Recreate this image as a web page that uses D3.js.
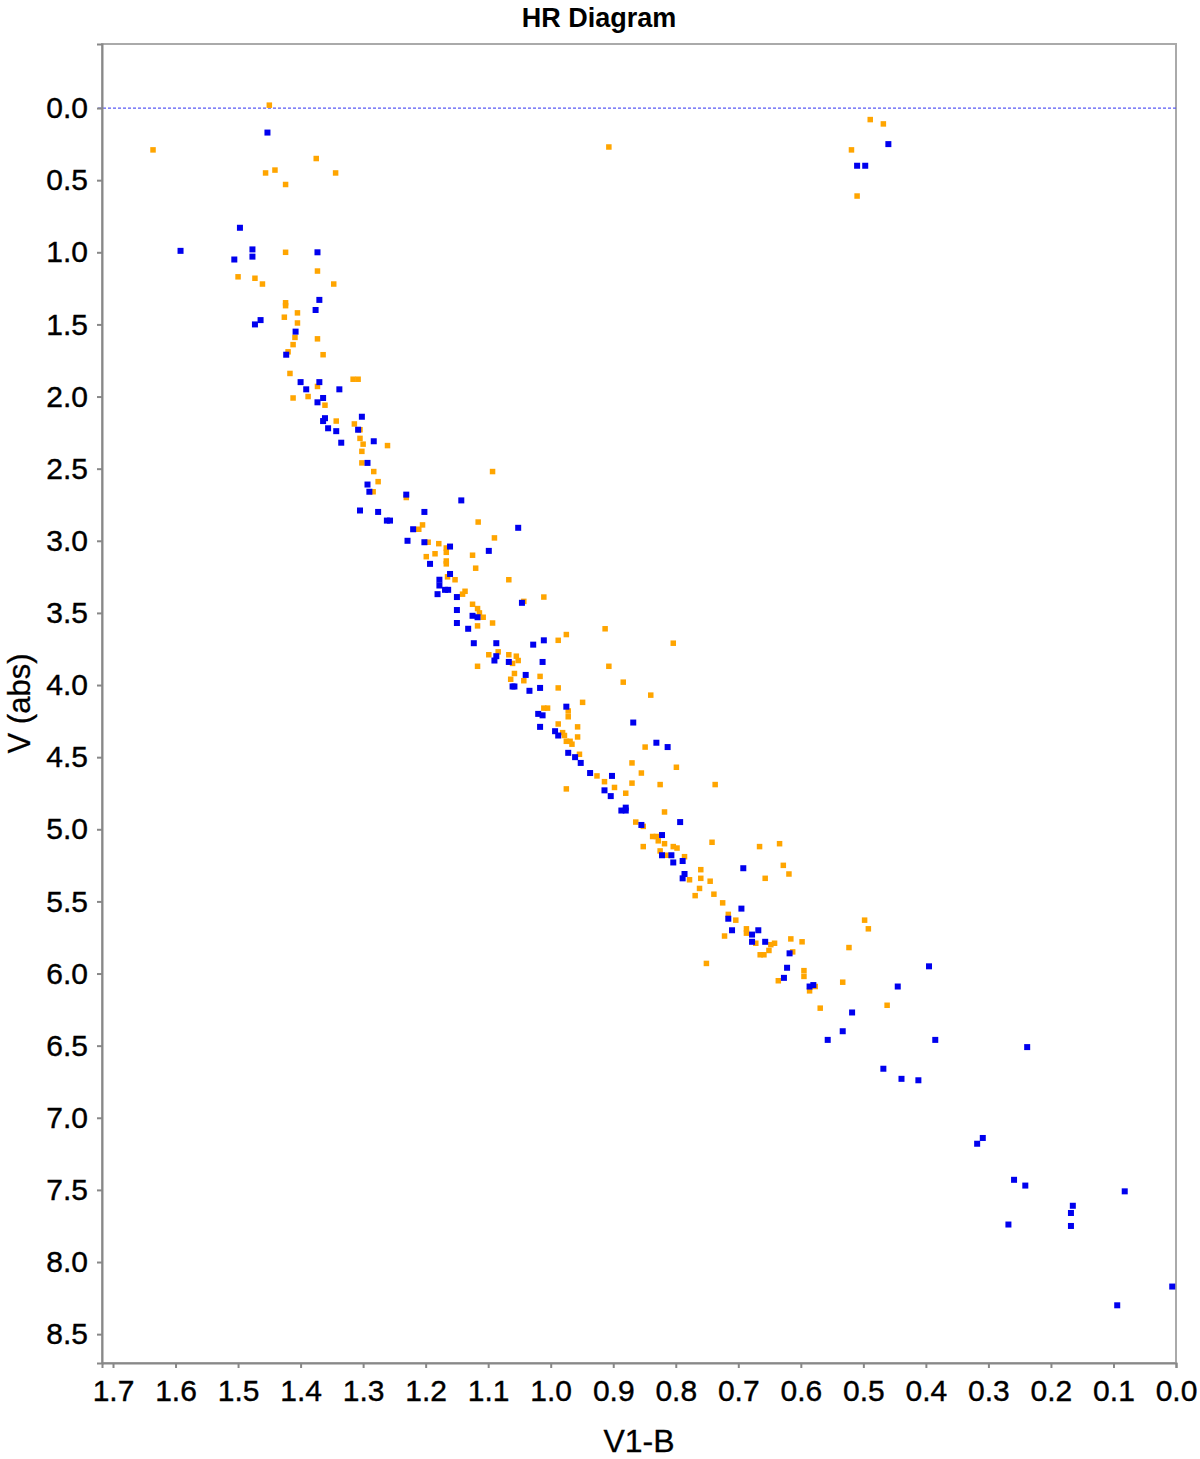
<!DOCTYPE html>
<html>
<head>
<meta charset="utf-8">
<script src="https://cdn.jsdelivr.net/npm/d3@7"></script>
<style>
  body { margin: 0; background: #fff; }
  svg text { font-family: "Liberation Sans", Arial, sans-serif; }
</style>
</head>
<body>
<script>
// orange series: [V1-B, V(abs)]
var orangeStars = [
  [1.450,-0.02],[1.636,0.29],[1.375,0.35],[1.456,0.45],[1.441,0.43],[1.344,0.45],[1.424,0.53],
  [1.424,1.00],[1.373,1.13],[1.500,1.17],[1.473,1.18],[1.461,1.22],[1.347,1.22],[1.424,1.35],
  [1.424,1.37],[1.405,1.42],[1.426,1.45],[1.405,1.49],[1.409,1.59],[1.373,1.60],[1.412,1.64],
  [1.420,1.69],[1.364,1.71],[1.417,1.84],[1.373,1.93],[1.316,1.88],[1.308,1.88],[1.412,2.01],
  [1.388,2.00],[1.361,2.06],[1.343,2.17],[1.314,2.19],[1.305,2.23],[1.305,2.29],[1.300,2.33],
  [1.261,2.34],[1.302,2.38],[1.302,2.46],[1.283,2.52],[1.093,2.52],[1.276,2.59],[1.284,2.66],
  [1.231,2.70],[1.116,2.87],[1.205,2.89],[1.211,2.92],[1.090,2.98],[1.196,3.01],[1.179,3.02],
  [1.167,3.05],[1.185,3.09],[1.167,3.08],[1.125,3.10],[1.199,3.11],[1.167,3.14],[1.167,3.16],
  [1.120,3.19],[1.165,3.25],[1.153,3.27],[1.137,3.35],[1.141,3.37],[1.125,3.44],[1.117,3.47],
  [1.114,3.50],[1.108,3.53],[1.117,3.59],[1.093,3.57],[1.067,3.27],[1.011,3.39],[1.043,3.42],
  [0.913,3.61],[0.975,3.65],[0.988,3.69],[0.804,3.71],[1.099,3.79],[1.084,3.77],[1.067,3.79],
  [1.055,3.80],[1.052,3.83],[1.061,3.85],[1.117,3.87],[0.907,3.87],[1.058,3.92],[1.017,3.94],
  [1.064,3.96],[1.043,3.97],[0.884,3.98],[0.988,4.02],[0.840,4.07],[0.949,4.12],[1.011,4.16],
  [1.005,4.16],[0.972,4.18],[0.972,4.22],[0.988,4.27],[0.957,4.29],[0.981,4.33],[0.978,4.35],
  [0.975,4.39],[0.969,4.39],[0.966,4.41],[0.957,4.36],[0.849,4.43],[0.954,4.48],[0.870,4.54],
  [0.799,4.57],[0.926,4.63],[0.855,4.61],[0.914,4.67],[0.898,4.71],[0.870,4.68],[0.825,4.69],
  [0.737,4.69],[0.975,4.72],[0.880,4.75],[0.818,4.88],[0.864,4.95],[0.852,4.98],[0.837,5.05],
  [0.831,5.05],[0.828,5.08],[0.852,5.12],[0.818,5.10],[0.804,5.12],[0.798,5.13],[0.742,5.09],
  [0.666,5.12],[0.634,5.10],[0.825,5.15],[0.815,5.18],[0.786,5.19],[0.628,5.25],[0.760,5.28],
  [0.619,5.31],[0.778,5.35],[0.760,5.34],[0.745,5.36],[0.657,5.34],[0.762,5.41],[0.769,5.46],
  [0.739,5.45],[0.725,5.51],[0.716,5.59],[0.704,5.63],[0.498,5.63],[0.492,5.69],[0.687,5.69],
  [0.687,5.72],[0.722,5.74],[0.672,5.79],[0.642,5.79],[0.648,5.80],[0.616,5.76],[0.598,5.78],
  [0.523,5.82],[0.651,5.84],[0.665,5.87],[0.659,5.87],[0.613,5.85],[0.751,5.93],[0.595,5.98],
  [0.595,6.02],[0.636,6.05],[0.586,6.12],[0.577,6.09],[0.533,6.06],[0.462,6.22],[0.569,6.24],
  [0.489,0.08],[0.468,0.11],[0.519,0.29],[0.510,0.61],[0.907,0.27]
];

// blue series: [V1-B, V(abs)]
var blueStars = [
  [1.453,0.17],[1.497,0.83],[1.592,0.99],[1.477,0.98],[1.477,1.03],[1.506,1.05],[1.373,1.00],
  [1.370,1.33],[1.376,1.40],[1.464,1.47],[1.473,1.50],[1.408,1.55],[1.423,1.71],[1.400,1.90],
  [1.370,1.90],[1.391,1.95],[1.338,1.95],[1.364,2.01],[1.373,2.04],[1.361,2.15],[1.364,2.17],
  [1.302,2.14],[1.356,2.22],[1.343,2.24],[1.308,2.23],[1.335,2.32],[1.283,2.31],[1.293,2.46],
  [1.293,2.61],[1.290,2.66],[1.231,2.68],[1.143,2.72],[1.305,2.79],[1.276,2.80],[1.262,2.86],
  [1.257,2.86],[1.202,2.80],[1.220,2.92],[1.229,3.00],[1.202,3.01],[1.161,3.04],[1.099,3.07],
  [1.193,3.16],[1.161,3.23],[1.178,3.27],[1.178,3.31],[1.169,3.34],[1.164,3.34],[1.181,3.37],
  [1.150,3.39],[1.150,3.48],[1.125,3.52],[1.117,3.53],[1.150,3.57],[1.132,3.61],[1.123,3.71],
  [1.087,3.71],[1.052,2.91],[1.046,3.43],[1.011,3.69],[1.028,3.72],[1.087,3.80],[1.090,3.83],
  [1.067,3.84],[1.013,3.84],[1.040,3.93],[1.061,4.01],[1.058,4.01],[1.017,4.02],[1.034,4.04],
  [0.975,4.15],[1.020,4.20],[1.013,4.21],[1.017,4.29],[0.868,4.26],[0.993,4.32],[0.988,4.35],
  [0.831,4.40],[0.813,4.43],[0.972,4.47],[0.961,4.50],[0.952,4.54],[0.937,4.61],[0.902,4.63],
  [0.914,4.73],[0.904,4.77],[0.887,4.87],[0.880,4.85],[0.880,4.87],[0.855,4.97],[0.793,4.95],
  [0.822,5.04],[0.822,5.18],[0.807,5.18],[0.804,5.23],[0.789,5.22],[0.692,5.27],[0.786,5.31],
  [0.789,5.34],[0.695,5.55],[0.716,5.62],[0.710,5.70],[0.668,5.70],[0.678,5.73],[0.678,5.78],
  [0.657,5.78],[0.618,5.86],[0.622,5.96],[0.627,6.03],[0.586,6.09],[0.580,6.08],[0.395,5.95],
  [0.445,6.09],[0.518,6.27],[0.533,6.40],[0.557,6.46],[0.385,6.46],[0.238,6.51],[0.468,6.66],
  [0.439,6.73],[0.412,6.74],[0.309,7.14],[0.318,7.18],[0.259,7.43],[0.241,7.47],[0.082,7.51],
  [0.165,7.61],[0.168,7.66],[0.268,7.74],[0.168,7.75],[0.006,8.17],[0.094,8.30],
  [0.460,0.25],[0.510,0.40],[0.497,0.40]
];

var xTicks = [1.7,1.6,1.5,1.4,1.3,1.2,1.1,1.0,0.9,0.8,0.7,0.6,0.5,0.4,0.3,0.2,0.1,0.0],
    yTicks = [0.0,0.5,1.0,1.5,2.0,2.5,3.0,3.5,4.0,4.5,5.0,5.5,6.0,6.5,7.0,7.5,8.0,8.5],
    xDomain = [1.7176, 0.0],
    yDomain = [-0.444, 8.70],
    refLine = 0.0;

var width = 1200,
    height = 1459,
    margin = {top: 44, right: 24, bottom: 96, left: 102};

var svg = d3.select("body").append("svg")
    .attr("width", width)
    .attr("height", height);

var x = d3.scaleLinear().domain(xDomain).range([margin.left, width - margin.right]),
    y = d3.scaleLinear().domain(yDomain).range([margin.top, height - margin.bottom]);

// frame (top/right lighter)
svg.append("rect")
    .attr("x", margin.left).attr("y", margin.top)
    .attr("width", width - margin.right - margin.left)
    .attr("height", height - margin.bottom - margin.top)
    .attr("fill", "none").attr("stroke", "#aaa").attr("stroke-width", 2);

// zero line
svg.append("line")
    .attr("x1", margin.left - 4).attr("x2", width - margin.right)
    .attr("y1", y(refLine)).attr("y2", y(refLine))
    .attr("stroke", "#5a5af5").attr("stroke-width", 1.3)
    .attr("stroke-dasharray", "3,2");

var plot = svg.append("g");
plot.selectAll(".o").data(orangeStars).enter().append("rect")
    .attr("x", function(d) { return x(d[0]) - 2.75; })
    .attr("y", function(d) { return y(d[1]) - 2.75; })
    .attr("width", 5.5).attr("height", 5.5)
    .attr("fill", "#ffa500");
plot.selectAll(".b").data(blueStars).enter().append("rect")
    .attr("x", function(d) { return x(d[0]) - 3; })
    .attr("y", function(d) { return y(d[1]) - 3; })
    .attr("width", 6).attr("height", 6)
    .attr("fill", "#0000ee");

var fmt = d3.format(".1f");

var gx = svg.append("g")
    .attr("transform", "translate(0," + (height - margin.bottom) + ")")
    .call(d3.axisBottom(x).tickValues(xTicks).tickFormat(fmt).tickSize(5).tickPadding(12));
var gy = svg.append("g")
    .attr("transform", "translate(" + margin.left + ",0)")
    .call(d3.axisLeft(y).tickValues(yTicks).tickFormat(fmt).tickSize(5).tickPadding(9));

[gx, gy].forEach(function(g) {
  g.select(".domain").attr("stroke", "#888").attr("stroke-width", 2);
  g.selectAll(".tick line").attr("stroke", "#888").attr("stroke-width", 2);
  g.selectAll(".tick text").attr("fill", "#000")
      .attr("stroke", "#000").attr("stroke-width", 0.4)
      .style("font-family", "'Liberation Sans', Arial, sans-serif")
      .style("font-size", "30px");
});

svg.append("text")
    .attr("x", 599).attr("y", 27)
    .attr("text-anchor", "middle")
    .style("font-size", "27px").style("font-weight", "bold")
    .text("HR Diagram");

svg.append("text")
    .attr("x", (margin.left + width - margin.right) / 2).attr("y", 1452)
    .attr("text-anchor", "middle")
    .attr("stroke", "#000").attr("stroke-width", 0.3)
    .style("font-size", "32px")
    .text("V1-B");

svg.append("text")
    .attr("transform", "translate(30," + (margin.top + height - margin.bottom) / 2 + ") rotate(-90)")
    .attr("text-anchor", "middle")
    .attr("stroke", "#000").attr("stroke-width", 0.3)
    .style("font-size", "31px")
    .text("V (abs)");
</script>
</body>
</html>
